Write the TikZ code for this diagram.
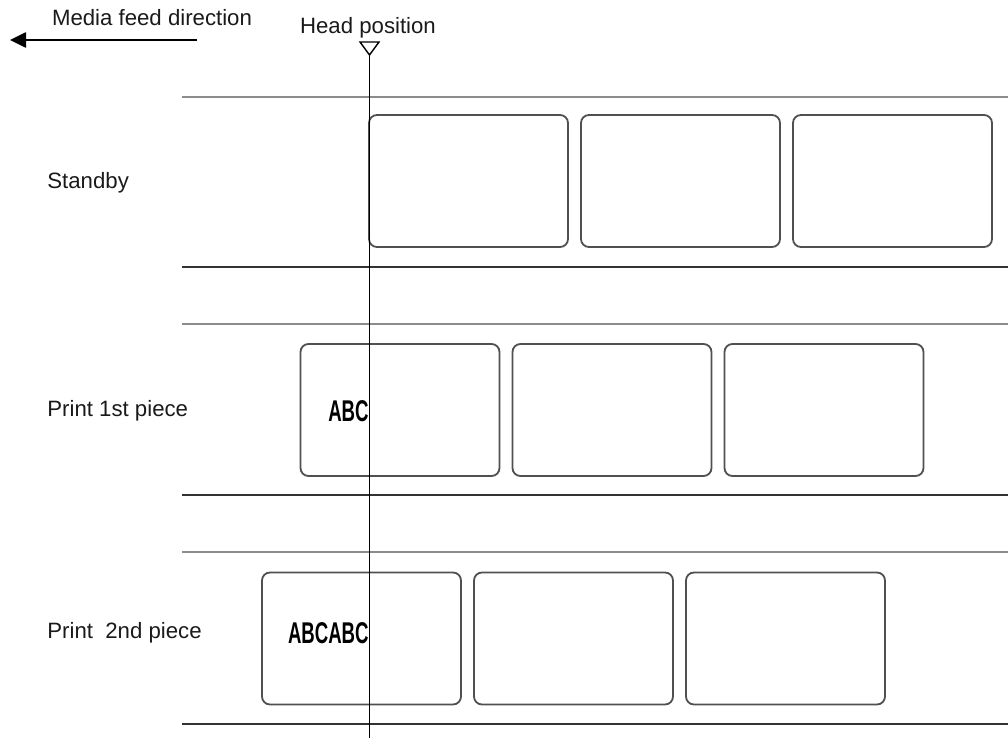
\documentclass[tikz,border=0pt]{standalone}
\usepackage{fontspec}
\setmainfont{Liberation Sans}
\newfontfamily\stampfont[FakeStretch=0.62]{Liberation Sans}
\usetikzlibrary{arrows.meta,positioning}
\definecolor{mfink}{HTML}{1A1A1A}
\definecolor{mfrule}{HTML}{8C8C8C}
\definecolor{mfdark}{HTML}{333333}
\definecolor{mfedge}{HTML}{505050}
\tikzset{
  piece/.style={rectangle,rounded corners=4pt,draw=mfedge,line width=0.9pt,
                minimum width=99.5pt,minimum height=66pt,inner sep=0pt},
  rowtext/.style={anchor=west,inner sep=0pt,text=mfink,
                  font=\fontsize{11.1}{13}\selectfont},
  stamp/.style={anchor=east,inner sep=0pt,text=black,
                font=\stampfont\bfseries\fontsize{15}{18}\selectfont},
  bandtop/.style={draw=mfrule,line width=1pt},
  bandbot/.style={draw=mfdark,line width=1pt},
  feed/.style={-{Triangle[length=8pt,width=7.5pt]},line width=1.3pt,draw=black},
}
\begin{document}
\begin{tikzpicture}[x=0.5pt,y=-0.5pt]
  \useasboundingbox (0,0) rectangle (1008,738);
  % feed direction and head
  \coordinate (feedtail) at (197,40);
  \coordinate (feedtip) at (10,40);
  \draw[feed] (feedtail) -- (feedtip);
  \node[rowtext,anchor=center] (feedtxt) at (152,18) {Media feed direction};
  \node[rowtext,anchor=center] (headtxt) at (368,28) {Head position};
  \coordinate (headtip) at (369.5,55);
  \coordinate (headend) at (369.5,738);
  \draw[black,line width=0.7pt,fill=white] (360,42) -- (379,42) -- (headtip) -- cycle;
  % bands
  \foreach \yt/\yb in {97/267,324/495,552/724}{
    \draw[bandtop] (182,\yt) -- (1008,\yt);
    \draw[bandbot] (182,\yb) -- (1008,\yb);
  }
  % standby
  \node[rowtext] (standby) at (47,183) {Standby};
  \node[piece] (s1) at (468.5,181) {};
  \node[piece,right=5.6pt of s1] (s2) {};
  \node[piece,right=5.6pt of s2] (s3) {};
  % print 1st
  \node[rowtext] (print1) at (47,411) {Print 1st piece};
  \node[piece] (p1) at (400,410) {};
  \node[piece,right=5.6pt of p1] (p2) {};
  \node[piece,right=5.6pt of p2] (p3) {};
  \node[stamp] (abc1) at (369,411) {ABC};
  % print 2nd
  \node[rowtext] (print2) at (47,633) {Print\ \ 2nd piece};
  \node[piece] (q1) at (361.5,638.5) {};
  \node[piece,right=5.6pt of q1] (q2) {};
  \node[piece,right=5.6pt of q2] (q3) {};
  \node[stamp] (abc2) at (369,633) {ABCABC};
  \draw[black,line width=0.8pt] (headtip) -- (headend);
\end{tikzpicture}
\end{document}
